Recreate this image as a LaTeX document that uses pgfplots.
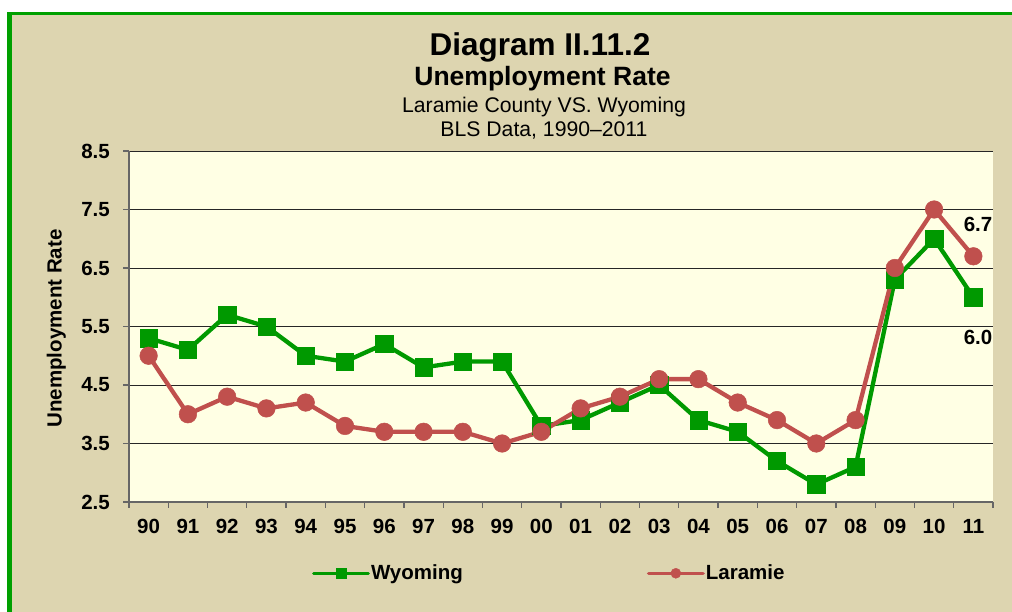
\documentclass[border=0pt]{standalone}
\usepackage{fontspec}
\setmainfont{Liberation Sans}
\usepackage{pgfplots}
\pgfplotsset{compat=1.18}
\definecolor{tanbg}{RGB}{221,213,176}
\definecolor{plotbg}{RGB}{255,255,228}
\definecolor{wyo}{RGB}{0,153,0}
\definecolor{lar}{RGB}{192,80,77}
\definecolor{brd}{RGB}{0,160,0}
\begin{document}
\begin{tikzpicture}[x=1pt,y=1pt]
\useasboundingbox (0,0) rectangle (1012,612);
\fill[white] (0,0) rectangle (1012,612);
\fill[tanbg] (7,0) rectangle (1012,600);
\fill[brd] (7,0) rectangle (11.5,600);
\fill[brd] (7,596.5) rectangle (1012,600);
\node[anchor=base,font=\fontsize{31.5}{36}\selectfont\bfseries] at (540,556) {Diagram II.11.2};
\node[anchor=base,font=\fontsize{26.5}{31}\selectfont\bfseries] at (542.5,526.3) {Unemployment Rate};
\node[anchor=base,font=\fontsize{21.2}{25}\selectfont] at (544,499) {Laramie County VS. Wyoming};
\node[anchor=base,font=\fontsize{21.2}{25}\selectfont] at (544,475) {BLS Data, 1990–2011};
\begin{axis}[
  at={(129pt,110pt)}, anchor=south west,
  width=864pt, height=351pt, scale only axis,
  xmin=-0.5, xmax=21.5, ymin=2.5, ymax=8.5,
  axis background/.style={fill=plotbg},
  axis lines=left, axis line style={-, draw=black!60, line width=1.2pt},
  ytick={2.5,3.5,4.5,5.5,6.5,7.5,8.5},
  yticklabels={2.5,3.5,4.5,5.5,6.5,7.5,8.5},
  xtick={0,...,21},
  xticklabels={90,91,92,93,94,95,96,97,98,99,00,01,02,03,04,05,06,07,08,09,10,11},
  minor xtick={-0.5,0.5,...,21.5},
  tick align=outside,
  major tick length=6pt, minor tick length=6pt,
  x tick style={draw=none},
  minor x tick style={draw=black!60, line width=1.2pt},
  y tick style={draw=black!60, line width=1.2pt},
  ymajorgrids, grid style={draw=black!85, line width=0.9pt},
  tick label style={font=\fontsize{20.5}{24}\selectfont\bfseries},
  yticklabel style={anchor=east, inner sep=0pt, xshift=-13pt},
  xticklabel style={anchor=north, inner sep=0pt, yshift=-11pt},
  clip=false,
  legend columns=2,
  legend style={at={(0.2118,-0.2031)}, anchor=west, draw=none, fill=none,
    inner sep=0pt, outer sep=0pt,
    font=\fontsize{20.5}{24}\selectfont\bfseries,
    /tikz/every even column/.append style={column sep=183pt},
    nodes={inner sep=1pt}},
  legend image code/.code={%
    \draw[mark repeat=2,mark phase=2,#1,line width=3.5pt,line cap=round,mark size=5pt]
      plot coordinates {(1.75pt,0pt) (29pt,0pt) (56.25pt,0pt)};},
]
\addplot[wyo, line width=4.3pt, mark=square*, mark size=8.7pt,
  mark options={solid, line width=0.5pt, fill=wyo}]
  coordinates {(0,5.3)(1,5.1)(2,5.7)(3,5.5)(4,5.0)(5,4.9)(6,5.2)(7,4.8)(8,4.9)(9,4.9)(10,3.8)
  (11,3.9)(12,4.2)(13,4.5)(14,3.9)(15,3.7)(16,3.2)(17,2.8)(18,3.1)(19,6.3)(20,7.0)(21,6.0)};
\addlegendentry{Wyoming}
\addplot[lar, line width=4.3pt, mark=*, mark size=8.8pt,
  mark options={solid, line width=0.5pt, fill=lar}]
  coordinates {(0,5.0)(1,4.0)(2,4.3)(3,4.1)(4,4.2)(5,3.8)(6,3.7)(7,3.7)(8,3.7)(9,3.5)(10,3.7)
  (11,4.1)(12,4.3)(13,4.6)(14,4.6)(15,4.2)(16,3.9)(17,3.5)(18,3.9)(19,6.5)(20,7.5)(21,6.7)};
\addlegendentry{Laramie}
\end{axis}
\node[anchor=base,font=\fontsize{20.5}{24}\selectfont\bfseries] at (978,380.3) {6.7};
\node[anchor=base,font=\fontsize{20.5}{24}\selectfont\bfseries] at (978,267) {6.0};
\node[anchor=base,rotate=90,font=\fontsize{20.5}{24}\selectfont\bfseries] at (61.7,283.5) {Unemployment Rate};
\end{tikzpicture}
\end{document}
